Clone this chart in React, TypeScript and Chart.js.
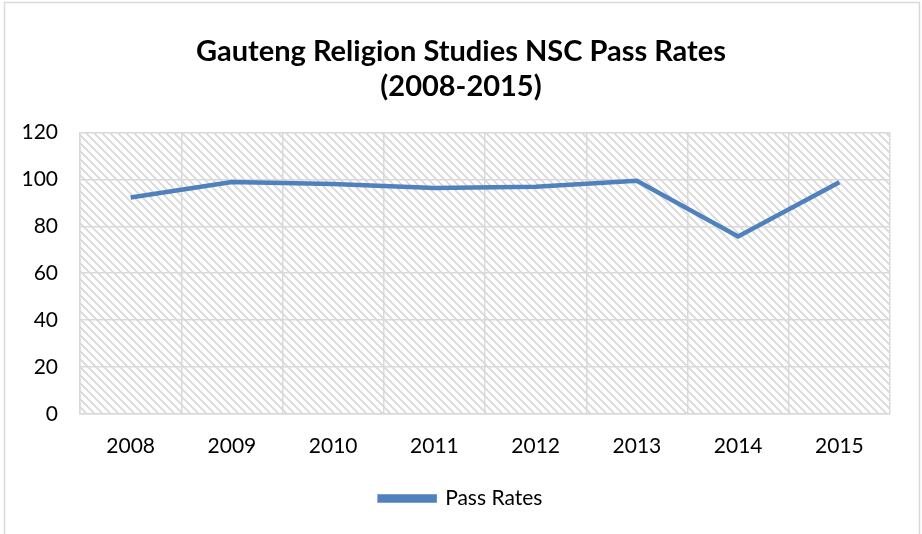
import React, { useEffect, useRef } from "react";
import { Chart, registerables } from "chart.js";

Chart.register(...registerables);

const categories = ["2008", "2009", "2010", "2011", "2012", "2013", "2014", "2015"];
const passRates = [92.3, 98.9, 98.0, 96.3, 96.9, 99.4, 75.7, 98.8];
const yTicks = [0, 20, 40, 60, 80, 100, 120];
const titleLines = ["Gauteng Religion Studies NSC Pass Rates", "(2008-2015)"];
const seriesName = "Pass Rates";

const FONT = "Lato, 'Open Sans', sans-serif";

function makePattern(): CanvasPattern | string {
  const c = document.createElement("canvas");
  c.width = 8;
  c.height = 8;
  const ctx = c.getContext("2d");
  if (!ctx) return "#fff";
  ctx.fillStyle = "#ffffff";
  ctx.fillRect(0, 0, 8, 8);
  ctx.fillStyle = "#dedede";
  for (let y = 0; y < 8; y++) {
    for (let x = 0; x < 8; x++) {
      const d = (((x - y) % 8) + 8) % 8;
      if (d < 3) ctx.fillRect(x, y, 1, 1);
    }
  }
  const p = ctx.createPattern(c, "repeat");
  return p || "#fff";
}

export default function App() {
  const ref = useRef<HTMLCanvasElement>(null);
  useEffect(() => {
    if (!ref.current) return;
    const pattern = makePattern();
    const bgPlugin = {
      id: "bgPlugin",
      beforeDraw(chart: any) {
        const { ctx, chartArea } = chart;
        ctx.save();
        ctx.fillStyle = "#ffffff";
        ctx.fillRect(0, 0, chart.width, chart.height);
        ctx.strokeStyle = "#d9d9d9";
        ctx.lineWidth = 1.5;
        ctx.strokeRect(4.5, 2.5, 915, 600);
        ctx.fillStyle = pattern as any;
        ctx.fillRect(chartArea.left, chartArea.top, chartArea.right - chartArea.left, chartArea.bottom - chartArea.top);
        ctx.restore();
      },
    };
    const chart = new Chart(ref.current, {
      type: "line",
      data: {
        labels: categories,
        datasets: [
          {
            label: seriesName,
            data: passRates,
            borderColor: "#4F81BD",
            backgroundColor: "#4F81BD",
            borderWidth: 4.5,
            pointRadius: 0,
            tension: 0,
            fill: false,
          },
        ],
      },
      options: {
        animation: false,
        responsive: false,
        layout: { padding: { left: 16, right: 16, top: 35, bottom: 15 } },
        plugins: {
          title: {
            display: true,
            text: titleLines,
            color: "#000",
            font: { family: FONT, size: 29, weight: "bold", lineHeight: 1.18 },
            padding: { top: 0, bottom: 29 },
          },
          legend: {
            position: "bottom",
            labels: {
              color: "#000",
              font: { family: FONT, size: 21 },
              boxWidth: 55,
              boxHeight: 4,
              padding: 10,
            },
          },
          tooltip: { enabled: false },
        },
        scales: {
          x: {
            offset: true,
            grid: { color: "#d9d9d9", offset: true, drawTicks: false, lineWidth: 1.5 },
            border: { color: "#d9d9d9", width: 1.5 },
            ticks: { color: "#000", font: { family: FONT, size: 21 }, padding: 20 },
            afterFit(axis: any) {
              axis.height = 64;
            },
          },
          y: {
            min: 0,
            max: 120,
            afterBuildTicks(axis: any) {
              axis.ticks = yTicks.map((v) => ({ value: v }));
            },
            grid: { color: "#d9d9d9", drawTicks: false, lineWidth: 1.5 },
            border: { color: "#d9d9d9", width: 1.5 },
            ticks: { color: "#000", font: { family: FONT, size: 21 }, padding: 22 },
            afterFit(axis: any) {
              axis.width = 64;
            },
          },
          yRightSpacer: {
            position: "right",
            display: true,
            min: 0,
            max: 120,
            grid: { display: false, drawTicks: false },
            border: { display: false },
            ticks: { display: false },
            afterFit(axis: any) {
              axis.width = 16;
            },
          },
        },
      },
      plugins: [bgPlugin],
    } as any);
    return () => chart.destroy();
  }, []);
  return (
    <div style={{ position: "fixed", left: 0, top: 0, width: 922, height: 534 }}>
      <canvas ref={ref} width={922} height={534} style={{ width: 922, height: 534 }} />
    </div>
  );
}
